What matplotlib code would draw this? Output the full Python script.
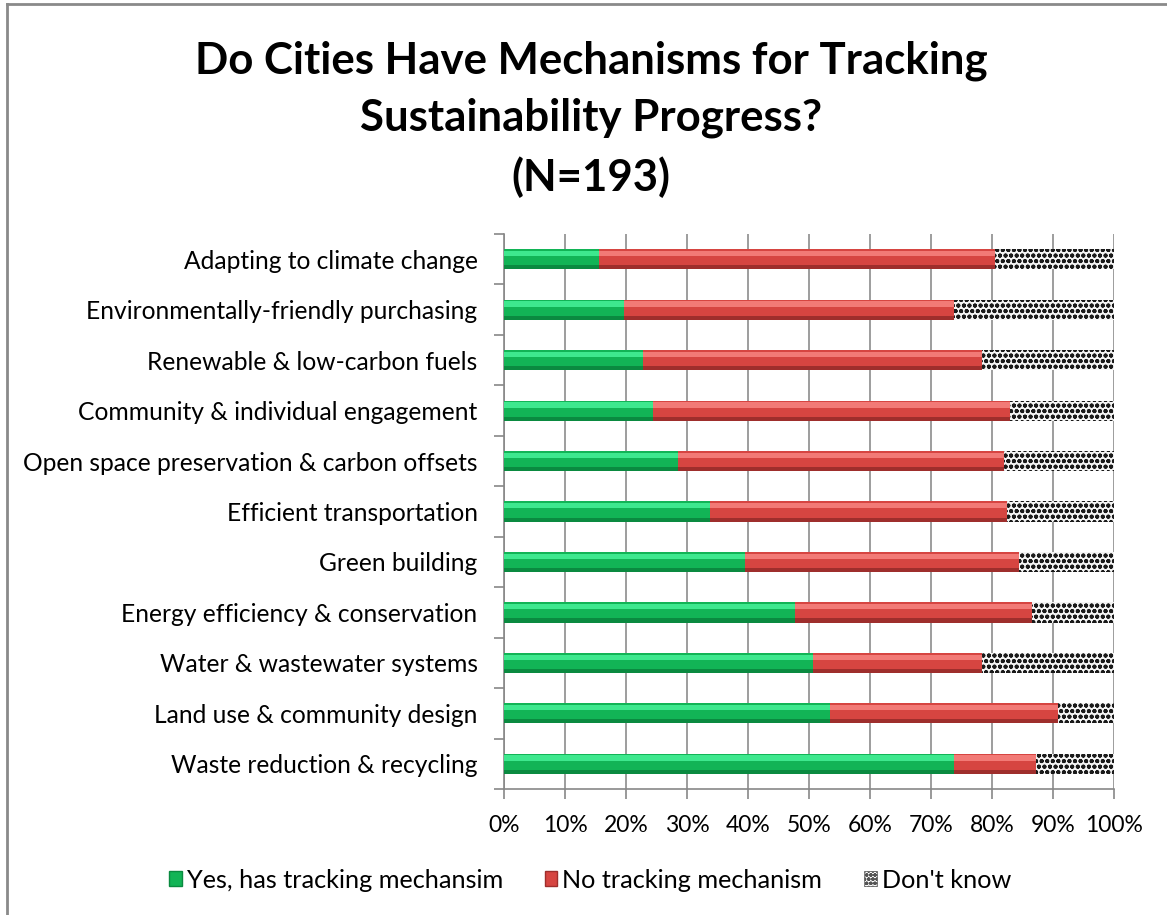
import matplotlib
matplotlib.use("Agg")
import matplotlib.pyplot as plt
from matplotlib.patches import Patch
from matplotlib.lines import Line2D
import numpy as np

categories = [
    "Adapting to climate change",
    "Environmentally-friendly purchasing",
    "Renewable & low-carbon fuels",
    "Community & individual engagement",
    "Open space preservation & carbon offsets",
    "Efficient transportation",
    "Green building",
    "Energy efficiency & conservation",
    "Water & wastewater systems",
    "Land use & community design",
    "Waste reduction & recycling",
]
yes_tracking = [15.5, 19.7, 22.8, 24.4, 28.6, 33.8, 39.5, 47.7, 50.7, 53.5, 73.7]
no_tracking = [65.0, 54.1, 55.6, 58.5, 53.3, 48.7, 45.0, 38.8, 27.6, 37.3, 13.5]
dont_know = [19.5, 26.2, 21.6, 17.1, 18.1, 17.5, 15.5, 13.5, 21.7, 9.2, 12.8]
series_names = ["Yes, has tracking mechansim", "No tracking mechanism", "Don't know"]
xtick_values = list(range(0, 101, 10))
title = "Do Cities Have Mechanisms for Tracking\nSustainability Progress?\n(N=193)"

FONT = ["Lato", "DejaVu Sans"]
plt.rcParams["font.family"] = FONT
plt.rcParams["hatch.linewidth"] = 1.3

fig = plt.figure(figsize=(11.67, 9.15), dpi=100)
W, H = 1167, 915
ax = fig.add_axes([504 / W, 1 - 789 / H, (1114 - 504) / W, (789 - 234) / H])

y = np.arange(len(categories))
h = 0.40
yes = np.array(yes_tracking)
no = np.array(no_tracking)
dk = np.array(dont_know)

def bevel_bar(widths, lefts, base, light, dark):
    ax.barh(y, widths, left=lefts, height=h, color=base, edgecolor="none", zorder=3)
    # top highlight band
    ax.barh(y - h * 0.28, widths, left=lefts, height=h * 0.26, color=light,
            edgecolor="none", zorder=4)
    # bottom shade band
    ax.barh(y + h * 0.40, widths, left=lefts, height=h * 0.20, color=dark,
            edgecolor="none", zorder=4)

bevel_bar(yes, 0, "#12b456", "#3ee88e", "#0a8a40")
bevel_bar(no, yes, "#d64541", "#f27a76", "#9e2e2c")
ax.barh(y, dk, left=yes + no, height=h, color="#f4f4f4", edgecolor="#1a1a1a",
        hatch="ooo", linewidth=0, zorder=3)

ax.set_xlim(0, 100)
ax.set_ylim(len(categories) - 0.5, -0.5)

ax.set_xticks(xtick_values)
ax.set_xticklabels([f"{v}%" for v in xtick_values])
ax.set_yticks(y)
ax.set_yticklabels(categories)
ax.set_yticks(np.arange(-0.5, len(categories)), minor=True)

ax.tick_params(axis="y", which="major", length=0, pad=19, labelsize=17.7)
ax.tick_params(axis="y", which="minor", length=7, width=1.2, color="#888888")
ax.tick_params(axis="x", which="major", length=7, width=1.2, color="#888888",
               pad=12, labelsize=16.5)

ax.grid(axis="x", color="#8c8c8c", linewidth=1.2, zorder=0)
ax.set_axisbelow(True)
for side in ["top", "right"]:
    ax.spines[side].set_visible(False)
for side in ["left", "bottom"]:
    ax.spines[side].set_color("#888888")
    ax.spines[side].set_linewidth(1.2)

fig.text(591 / W, 1 - 119 / H, title, ha="center", va="center",
         fontsize=31.5, fontweight="bold", linespacing=1.52, family=FONT)

handles = [
    Patch(facecolor="#12b456", edgecolor="#0a8a40"),
    Patch(facecolor="#d64541", edgecolor="#9e2e2c"),
    Patch(facecolor="white", edgecolor="#555555", hatch="oooo", linewidth=0.5),
]
fig.legend(handles, series_names, loc="center", bbox_to_anchor=(590 / W, 1 - 880 / H),
           ncol=3, frameon=False, fontsize=18.2, handlelength=0.5, handleheight=0.55,
           handletextpad=0.2, columnspacing=1.65)

# outer chart border (top and left visible)
fig.add_artist(Line2D([7 / W, 1.0], [1 - 4 / H, 1 - 4 / H], color="#8a8a8a", lw=2))
fig.add_artist(Line2D([7 / W, 7 / W], [0, 1 - 4 / H], color="#8a8a8a", lw=2))

fig.savefig("out.png", dpi=100, facecolor="white")
